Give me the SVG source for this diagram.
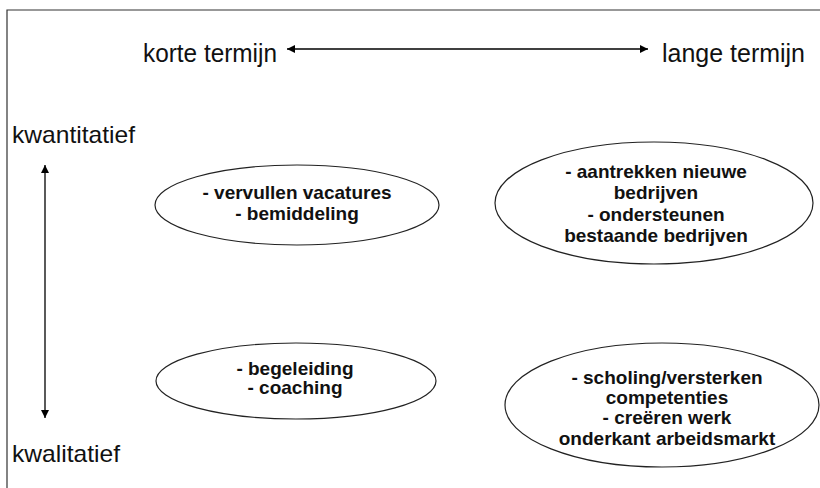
<svg xmlns="http://www.w3.org/2000/svg" width="820" height="488" viewBox="0 0 820 488">
<style>
.axis{font-family:"Liberation Sans",Arial,sans-serif;font-size:25px;fill:#111}
.side{font-family:"Liberation Sans",Arial,sans-serif;font-size:24px;fill:#111}
.node ellipse{fill:#fff;stroke:#222;stroke-width:1.2}
.node text{font-family:"Liberation Sans",Arial,sans-serif;font-size:19px;font-weight:bold;fill:#111;text-anchor:middle}
.conn line{stroke:#000;stroke-width:1.3}
</style>
<defs>
<marker id="ah" viewBox="0 0 10 10" refX="10" refY="5" markerWidth="8" markerHeight="8" markerUnits="userSpaceOnUse" orient="auto-start-reverse">
<path d="M0,0 L10,5 L0,10 z" fill="#000"/>
</marker>
</defs>
<rect width="820" height="488" fill="#fff"/>
<path d="M7,488 V10 H820" fill="none" stroke="#333" stroke-width="1.2"/>
<text class="axis" x="143" y="62" textLength="134" lengthAdjust="spacingAndGlyphs">korte termijn</text>
<text class="axis" x="662" y="62" textLength="143" lengthAdjust="spacingAndGlyphs">lange termijn</text>
<text class="side" x="12" y="143" textLength="123" lengthAdjust="spacingAndGlyphs">kwantitatief</text>
<text class="side" x="12" y="462" textLength="108" lengthAdjust="spacingAndGlyphs">kwalitatief</text>
<g class="conn" id="connectors">
<line x1="287" y1="49" x2="648" y2="49" marker-start="url(#ah)" marker-end="url(#ah)"/>
<line x1="45" y1="165" x2="45" y2="418" marker-start="url(#ah)" marker-end="url(#ah)"/>
</g>
<g class="node" id="n-kort-kwant">
<ellipse cx="297" cy="205" rx="142" ry="40"/>
<text x="297" y="199">- vervullen vacatures</text>
<text x="297" y="220">- bemiddeling</text>
</g>
<g class="node" id="n-lang-kwant">
<ellipse cx="654" cy="203" rx="159" ry="61"/>
<text x="656" y="178">- aantrekken nieuwe</text>
<text x="656" y="199">bedrijven</text>
<text x="656" y="221">- ondersteunen</text>
<text x="656" y="242">bestaande bedrijven</text>
</g>
<g class="node" id="n-kort-kwal">
<ellipse cx="296" cy="381" rx="140" ry="38"/>
<text x="295" y="375">- begeleiding</text>
<text x="295" y="394">- coaching</text>
</g>
<g class="node" id="n-lang-kwal">
<ellipse cx="662" cy="405" rx="157" ry="62"/>
<text x="667" y="384">- scholing/versterken</text>
<text x="667" y="404">competenties</text>
<text x="667" y="424">- creëren werk</text>
<text x="667" y="445">onderkant arbeidsmarkt</text>
</g>
</svg>
